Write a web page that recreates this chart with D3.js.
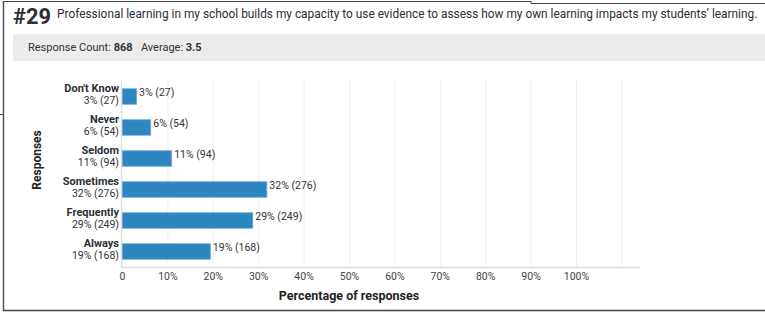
<!DOCTYPE html>
<html><head><meta charset="utf-8">
<script src="https://cdn.jsdelivr.net/npm/d3@7"></script>
<style>
html,body{margin:0;padding:0;background:#fff;}
svg{display:block;font-family:Roboto,Inter,sans-serif;}
</style></head>
<body><svg id="c" width="765" height="314"></svg>
<script>
const questionNumber = "#29";
const questionText = "Professional learning in my school builds my capacity to use evidence to assess how my own learning impacts my students’ learning.";
const responseCount = 868;
const averageScore = "3.5";
const categories = ["Don't Know", "Never", "Seldom", "Sometimes", "Frequently", "Always"];
const counts = [27, 54, 94, 276, 249, 168];
const percents = [3.11, 6.22, 10.83, 31.80, 28.69, 19.35];
const pctLabels = ["3%", "6%", "11%", "32%", "29%", "19%"];
const xTicks = [0, 10, 20, 30, 40, 50, 60, 70, 80, 90, 100];

const svg = d3.select("#c");
const fitText = (sel, w) => { const n = sel.node(); const l = n.getComputedTextLength(); if (l > 0) { const fs = parseFloat(sel.attr("font-size")); sel.attr("font-size", fs * w / l); } };

// frame
svg.append("line").attr("x1",3).attr("x2",531).attr("y1",1.5).attr("y2",1.5).attr("stroke","#444").attr("stroke-width",1);
svg.append("line").attr("x1",531).attr("x2",531).attr("y1",1).attr("y2",3.5).attr("stroke","#444").attr("stroke-width",1);
svg.append("line").attr("x1",531).attr("x2",765).attr("y1",3.5).attr("y2",3.5).attr("stroke","#444").attr("stroke-width",1);
svg.append("line").attr("x1",3.5).attr("x2",3.5).attr("y1",1).attr("y2",311).attr("stroke","#555").attr("stroke-width",1.5);
svg.append("line").attr("x1",3).attr("x2",765).attr("y1",310.5).attr("y2",310.5).attr("stroke","#444").attr("stroke-width",1.5);
svg.append("line").attr("x1",0).attr("x2",3).attr("y1",114.5).attr("y2",114.5).attr("stroke","#444");

// header
const num = svg.append("text").attr("x",13).attr("y",24).attr("font-size",21).attr("font-weight",700).attr("fill","#2b2f36").text(questionNumber);
fitText(num, 38);
const qt = svg.append("text").attr("x",57).attr("y",18).attr("font-size",13).attr("fill","#2b2f36").text(questionText);
fitText(qt, 701);

svg.append("rect").attr("x",13).attr("y",34).attr("width",752).attr("height",27).attr("fill","#ececec");
const info = svg.append("text").attr("x",28).attr("y",51).attr("font-size",11).attr("fill","#333");
info.append("tspan").text("Response Count: ");
info.append("tspan").attr("font-weight",700).text(responseCount);
info.append("tspan").text("\u2002 Average: ");
info.append("tspan").attr("font-weight",700).text(averageScore);

// chart
const x = d3.scaleLinear().domain([0,100]).range([122,576]);
const y = d3.scaleBand().domain(categories).range([81,267]).paddingInner(0.5).paddingOuter(0.25);
const axisY = 267;

// grid
svg.append("g").selectAll("line").data(xTicks.slice(1).concat([110])).join("line")
  .attr("x1",d=>x(d)+0.5).attr("x2",d=>x(d)+0.5).attr("y1",80).attr("y2",axisY)
  .attr("stroke","#f0f0f0").attr("stroke-width",1);

// axis
const xAxis = svg.append("g").attr("transform",`translate(0,${axisY})`)
  .call(d3.axisBottom(x).tickValues(xTicks).tickFormat(d=>d===0?"0":d+"%").tickSize(0).tickPadding(6));
xAxis.select(".domain").remove();
xAxis.selectAll("text").attr("font-size",10.5).attr("fill","#444").attr("font-family","Roboto,sans-serif");
svg.append("line").attr("x1",121).attr("x2",640).attr("y1",axisY+0.5).attr("y2",axisY+0.5).attr("stroke","#ddd").attr("stroke-width",1.5);
svg.append("line").attr("x1",121.5).attr("x2",121.5).attr("y1",80).attr("y2",axisY).attr("stroke","#ddd").attr("stroke-width",1.5);

// bars
const data = categories.map((c,i)=>({c, n:counts[i], p:percents[i], l:pctLabels[i]}));
svg.append("g").selectAll("rect").data(data).join("rect")
  .attr("x",x(0)+0.5).attr("y",d=>y(d.c)).attr("width",d=>x(d.p)-x(0)).attr("height",y.bandwidth())
  .attr("fill","#2e86c1").attr("stroke","#6aaad8").attr("stroke-width",0.8);

svg.append("g").selectAll("text").data(data).join("text")
  .attr("x",d=>x(d.p)+3).attr("y",d=>y(d.c)+7.5).attr("font-size",10.5).attr("fill","#333")
  .text(d=>`${d.l} (${d.n})`);

// y labels
const yl = svg.append("g").selectAll("g").data(data).join("g");
yl.append("text").attr("x",119).attr("y",d=>y(d.c)+3).attr("text-anchor","end")
  .attr("font-size",11).attr("font-weight",700).attr("fill","#2b2f36").text(d=>d.c);
yl.append("text").attr("x",119).attr("y",d=>y(d.c)+15.5).attr("text-anchor","end")
  .attr("font-size",10.5).attr("fill","#333").text(d=>`${d.l} (${d.n})`);

svg.append("text").attr("transform","translate(41,160) rotate(-90)").attr("text-anchor","middle")
  .attr("font-size",12).attr("font-weight",700).attr("fill","#222").text("Responses");
svg.append("text").attr("x",349).attr("y",300).attr("text-anchor","middle")
  .attr("font-size",12.5).attr("font-weight",700).attr("fill","#222").text("Percentage of responses");
</script></body></html>
